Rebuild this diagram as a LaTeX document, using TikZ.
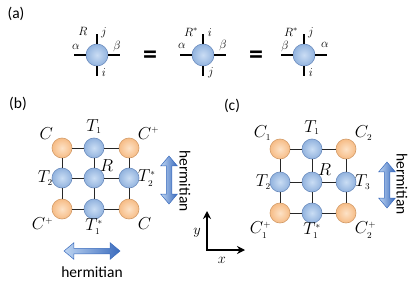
\documentclass[tikz,border=0pt]{standalone}
\usepackage{fontspec}
\setsansfont{Carlito}
\DeclareMathSizes{17}{17}{9}{7}
\DeclareMathSizes{13}{13}{8}{6}
\usetikzlibrary{shapes.arrows,arrows.meta}
\definecolor{tenblue}{HTML}{92B3DE}
\definecolor{tenbluehi}{HTML}{CADDF4}
\definecolor{tenblueln}{HTML}{6B8CBE}
\definecolor{envorange}{HTML}{F6BC86}
\definecolor{envorangehi}{HTML}{FDE2C6}
\definecolor{envorangeln}{HTML}{D39B68}
\definecolor{hermdark}{HTML}{3A6BBD}
\definecolor{hermlight}{HTML}{BED5F2}
\tikzset{
  tensor/.style={circle, draw=tenblueln, line width=0.6pt, inner color=tenbluehi,
    outer color=tenblue, minimum size=20pt, inner sep=0pt, outer sep=0pt},
  corner/.style={tensor, draw=envorangeln, inner color=envorangehi, outer color=envorange},
  bigtensor/.style={tensor, minimum size=22pt},
  leg/.style={line width=1.2pt},
  bond/.style={line width=1pt, black!85},
  lab/.style={font=\fontsize{17}{19}\selectfont, inner sep=1pt, label distance=1pt},
  sidelab/.style={lab, label distance=-2pt},
  toplab/.style={lab, label distance=3pt},
  botlab/.style={lab, label distance=-1.5pt},
  midlab/.style={lab, label distance=-3pt},
  smalllab/.style={font=\fontsize{13}{15}\selectfont, inner sep=0pt},
  panel/.style={font=\sffamily\fontsize{15.5}{18}\selectfont, inner sep=0pt},
  hermarrow/.style={double arrow, draw=hermdark, line width=0.5pt, left color=hermlight,
    right color=hermdark, inner sep=2.5pt, double arrow head extend=5.5pt,
    double arrow tip angle=80},
  axis/.style={line width=1.8pt, {Stealth[length=8pt,width=8pt]}-{Stealth[length=8pt,width=8pt]}}
}
\begin{document}
\begin{tikzpicture}[x=1pt, y=-1pt]
  \useasboundingbox (0,0) rectangle (415,281);
  % (a)
  \node[panel] (pa) at (16,14) {(a)};
  \coordinate (raL) at (74,55); \coordinate (raR) at (120,55);
  \coordinate (raT) at (97,34); \coordinate (raB) at (97,76);
  \coordinate (rbL) at (180,55); \coordinate (rbR) at (226,55);
  \coordinate (rbT) at (203,34); \coordinate (rbB) at (203,76);
  \coordinate (rcL) at (281,55); \coordinate (rcR) at (327,55);
  \coordinate (rcT) at (304,34); \coordinate (rcB) at (304,76);
  \node[bigtensor] (ra) at (97,55) {};
  \node[bigtensor] (rb) at (203,55) {};
  \node[bigtensor] (rc) at (304,55) {};
  \draw[leg] (raL)--(ra)--(raR); \draw[leg] (raT)--(ra)--(raB);
  \draw[leg] (rbL)--(rb)--(rbR); \draw[leg] (rbT)--(rb)--(rbB);
  \draw[leg] (rcL)--(rc)--(rcR); \draw[leg] (rcT)--(rc)--(rcB);
  \node[smalllab] (raR0) at (83,31) {$R$};
  \node[smalllab] (raj) at (104,33) {$j$};
  \node[smalllab] (raa) at (76,47) {$\alpha$};
  \node[smalllab] (rab) at (117,46) {$\beta$};
  \node[smalllab] (rai) at (104,73) {$i$};
  \node[panel, font=\sffamily\bfseries\fontsize{28}{28}\selectfont] (eq1) at (150,57) {=};
  \node[smalllab] (rbR0) at (191,32) {$R^*$};
  \node[smalllab] (rbi) at (210,33) {$i$};
  \node[smalllab] (rba) at (182,46) {$\alpha$};
  \node[smalllab] (rbb) at (223,45) {$\beta$};
  \node[smalllab] (rbj) at (211,73) {$j$};
  \node[panel, font=\sffamily\bfseries\fontsize{28}{28}\selectfont] (eq2) at (256,57) {=};
  \node[smalllab] (rcR0) at (291,32) {$R^*$};
  \node[smalllab] (rcj) at (311,33) {$j$};
  \node[smalllab] (rcb) at (285,46) {$\beta$};
  \node[smalllab] (rca) at (325,45) {$\alpha$};
  \node[smalllab] (rci) at (311,73) {$i$};
  % (b)
  \node[panel] (pb) at (18,104) {(b)};
  \node[corner, label={[lab]135:$C$}] (b11) at (62,148) {};
  \node[tensor, label={[toplab]90:$T_1$}] (b12) at (94,148) {};
  \node[corner, label={[lab]45:$C^+$}] (b13) at (129,148) {};
  \node[tensor, label={[sidelab]180:$T_2$}] (b21) at (62,178) {};
  \node[tensor, label={[midlab]45:$R$}] (b22) at (94,178) {};
  \node[tensor, label={[sidelab]0:$T_2^*$}] (b23) at (129,178) {};
  \node[corner, label={[lab]225:$C^+$}] (b31) at (62,209) {};
  \node[tensor, label={[botlab]270:$T_1^*$}] (b32) at (94,209) {};
  \node[corner, label={[lab]315:$C$}] (b33) at (129,209) {};
  \draw[bond] (b11)--(b12)--(b13); \draw[bond] (b21)--(b22)--(b23);
  \draw[bond] (b31)--(b32)--(b33);
  \draw[bond] (b11)--(b21)--(b31); \draw[bond] (b12)--(b22)--(b32);
  \draw[bond] (b13)--(b23)--(b33);
  \node[hermarrow, minimum height=56pt] (hb1) at (92,251) {};
  \node[panel] (hbt1) at (92,272) {hermitian};
  \node[hermarrow, minimum height=48pt, rotate=-90] (hb2) at (169,180) {};
  \node[panel, rotate=-90] (hbt2) at (185,181) {hermitian};
  % axes
  \coordinate (ax0) at (207,250); \coordinate (axY) at (207,211);
  \coordinate (axX) at (245,250);
  \draw[axis] (axY)--(ax0)--(axX);
  \node[smalllab, font=\fontsize{15}{17}\selectfont] (ylab) at (197,233) {$y$};
  \node[smalllab, font=\fontsize{15}{17}\selectfont] (xlab) at (222,260) {$x$};
  % (c)
  \node[panel] (pc) at (232,106) {(c)};
  \node[corner, label={[lab]135:$C_1$}] (c11) at (280,149) {};
  \node[tensor, label={[toplab]90:$T_1$}] (c12) at (312,149) {};
  \node[corner, label={[lab]45:$C_2$}] (c13) at (346,149) {};
  \node[tensor, label={[sidelab]180:$T_2$}] (c21) at (280,182) {};
  \node[tensor, label={[midlab]45:$R$}] (c22) at (312,182) {};
  \node[tensor, label={[sidelab]0:$T_3$}] (c23) at (346,182) {};
  \node[corner, label={[lab]225:$C_1^+$}] (c31) at (280,213) {};
  \node[tensor, label={[botlab]270:$T_1^*$}] (c32) at (312,213) {};
  \node[corner, label={[lab]315:$C_2^+$}] (c33) at (346,213) {};
  \draw[bond] (c11)--(c12)--(c13); \draw[bond] (c21)--(c22)--(c23);
  \draw[bond] (c31)--(c32)--(c33);
  \draw[bond] (c11)--(c21)--(c31); \draw[bond] (c12)--(c22)--(c32);
  \draw[bond] (c13)--(c23)--(c33);
  \node[hermarrow, minimum height=46pt, rotate=-90] (hc) at (387,185) {};
  \node[panel, rotate=-90] (hct) at (402,184) {hermitian};
\end{tikzpicture}
\end{document}
